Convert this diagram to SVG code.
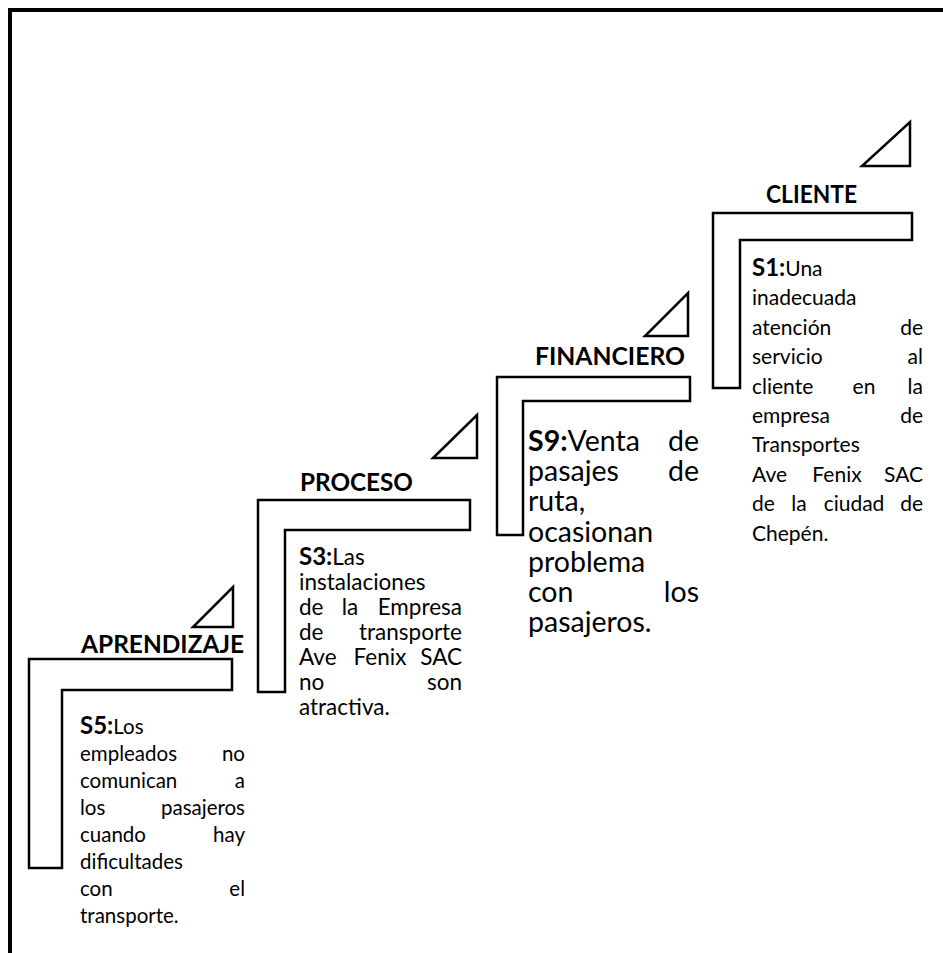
<svg xmlns="http://www.w3.org/2000/svg" width="943" height="953" viewBox="0 0 943 953">
<style>
.frame{fill:none;stroke:#000;stroke-width:4}
.shape{fill:#fff;stroke:#000;stroke-width:2.5;stroke-linejoin:miter}
text{font-family:Lato,"Open Sans","Liberation Sans",sans-serif;fill:#000}
.h{font-weight:bold;font-size:25.5px;text-anchor:middle}
.p{font-weight:bold}
.r{text-anchor:end}
.m{text-anchor:middle}
.t1{font-size:21px}
.t9{font-size:28.5px}
.t3{font-size:22.5px}
.t5{font-size:20.5px}
.pb{font-size:24px}
</style>
<rect width="943" height="953" fill="#fff"/>
<path class="frame" d="M10 953 V10 H943"/>

<g id="cliente">
<polygon class="shape" points="862,166 910,166 910,122"/>
<text class="h" x="811.5" y="203" textLength="91" lengthAdjust="spacingAndGlyphs">CLIENTE</text>
<path class="shape" d="M713 213 H912 V240 H740 V388 H713 Z"/>
<g class="t1">
<text x="752" y="276"><tspan class="p pb">S1:</tspan>Una</text>
<text x="752" y="305.4">inadecuada</text>
<text x="752" y="334.8">atención</text><text class="r" x="923" y="334.8">de</text>
<text x="752" y="364.2">servicio</text><text class="r" x="923" y="364.2">al</text>
<text x="752" y="393.6">cliente</text><text class="m" x="864" y="393.6">en</text><text class="r" x="923" y="393.6">la</text>
<text x="752" y="423">empresa</text><text class="r" x="923" y="423">de</text>
<text x="752" y="452.4">Transportes</text>
<text x="752" y="481.8">Ave</text><text class="m" x="837" y="481.8">Fenix</text><text class="r" x="923" y="481.8">SAC</text>
<text x="752" y="511.2">de</text><text class="m" x="799" y="511.2">la</text><text class="m" x="854" y="511.2">ciudad</text><text class="r" x="923" y="511.2">de</text>
<text x="752" y="540.6">Chepén.</text>
</g>
</g>

<g id="financiero">
<polygon class="shape" points="645,336 688,336 688,293"/>
<text class="h" x="610" y="365" textLength="150" lengthAdjust="spacingAndGlyphs">FINANCIERO</text>
<path class="shape" d="M497 377 H690 V401 H523 V535 H497 Z"/>
<g class="t9">
<text x="528" y="451"><tspan class="p">S9:</tspan>Venta</text><text class="r" x="699" y="451">de</text>
<text x="528" y="481.2">pasajes</text><text class="r" x="699" y="481.2">de</text>
<text x="528" y="511.4">ruta,</text>
<text x="528" y="541.6">ocasionan</text>
<text x="528" y="571.8">problema</text>
<text x="528" y="602">con</text><text class="r" x="699" y="602">los</text>
<text x="528" y="632.2">pasajeros.</text>
</g>
</g>

<g id="proceso">
<polygon class="shape" points="433,458 477,458 477,415"/>
<text class="h" x="356.5" y="491" textLength="113" lengthAdjust="spacingAndGlyphs">PROCESO</text>
<path class="shape" d="M258 500 H470 V530 H285 V692 H258 Z"/>
<g class="t3">
<text x="299" y="565"><tspan class="p pb">S3:</tspan>Las</text>
<text x="299" y="590">instalaciones</text>
<text x="299" y="615">de</text><text class="m" x="350" y="615">la</text><text class="r" x="462" y="615">Empresa</text>
<text x="299" y="640">de</text><text class="r" x="462" y="640">transporte</text>
<text x="299" y="665">Ave</text><text class="m" x="380" y="665">Fenix</text><text class="r" x="462" y="665">SAC</text>
<text x="299" y="690">no</text><text class="r" x="462" y="690">son</text>
<text x="299" y="715">atractiva.</text>
</g>
</g>

<g id="aprendizaje">
<polygon class="shape" points="193,627 233,627 233,587"/>
<text class="h" x="162.5" y="653" textLength="163" lengthAdjust="spacingAndGlyphs">APRENDIZAJE</text>
<path class="shape" d="M29 659 H232 V690 H62 V868 H29 Z"/>
<g class="t5">
<text x="80" y="734"><tspan class="p pb">S5:</tspan>Los</text>
<text x="80" y="761">empleados</text><text class="r" x="245" y="761">no</text>
<text x="80" y="788">comunican</text><text class="r" x="245" y="788">a</text>
<text x="80" y="815">los</text><text class="r" x="245" y="815">pasajeros</text>
<text x="80" y="842">cuando</text><text class="r" x="245" y="842">hay</text>
<text x="80" y="869">dificultades</text>
<text x="80" y="896">con</text><text class="r" x="245" y="896">el</text>
<text x="80" y="923">transporte.</text>
</g>
</g>
</svg>
